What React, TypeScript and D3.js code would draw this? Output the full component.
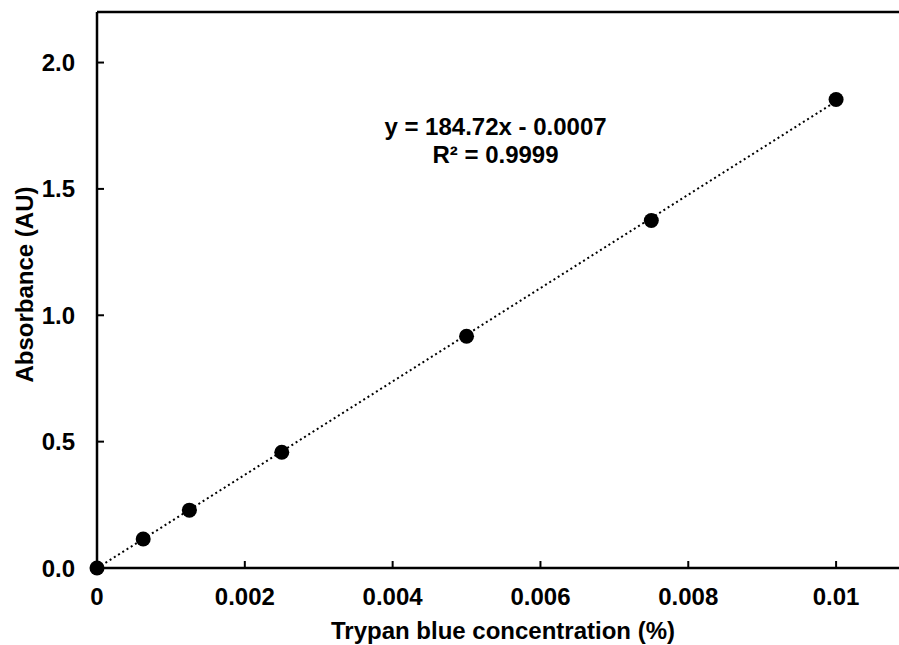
import React from "react";
import * as d3 from "d3";

const concentrations = [0, 0.000625, 0.00125, 0.0025, 0.005, 0.0075, 0.01];
const absorbances = [0, 0.115, 0.229, 0.458, 0.917, 1.375, 1.854];
const xTicks = [0, 0.002, 0.004, 0.006, 0.008, 0.01];
const xTickLabels = ["0", "0.002", "0.004", "0.006", "0.008", "0.01"];
const yTicks = [0, 0.5, 1.0, 1.5, 2.0];
const yTickLabels = ["0.0", "0.5", "1.0", "1.5", "2.0"];
const slope = 184.72;
const intercept = -0.0007;
const equationLines = ["y = 184.72x - 0.0007", "R² = 0.9999"];

export default function App() {
  const W = 899, H = 645;
  const x = d3.scaleLinear().domain([0, 0.011]).range([97, 910]);
  const y = d3.scaleLinear().domain([0, 2.2]).range([568, 12]);
  const font = "'Liberation Sans', Arial, sans-serif";
  const line = d3.line<number>().x((d) => x(d)).y((d) => y(slope * d + intercept));
  return (
    <svg width={W} height={H} style={{ position: "absolute", left: 0, top: 0, background: "#fff" }} fontFamily={font}>
      <path d={line([0, 0.01]) || ""} fill="none" stroke="#000" strokeWidth={2} strokeDasharray="2,3" />
      <line x1={x(0)} x2={W} y1={y(0)} y2={y(0)} stroke="#000" strokeWidth={2.5} />
      <line x1={x(0)} x2={x(0)} y1={y(0)} y2={y(2.2)} stroke="#000" strokeWidth={2.5} />
      <line x1={x(0)} x2={W} y1={y(2.2)} y2={y(2.2)} stroke="#000" strokeWidth={2.5} />
      {xTicks.map((t, i) => (
        <g key={"x" + i}>
          {i > 0 && <line x1={x(t)} x2={x(t)} y1={y(0)} y2={y(0) - 7} stroke="#000" strokeWidth={2} />}
          <text x={x(t)} y={605} textAnchor="middle" fontSize={24} fontWeight="bold">{xTickLabels[i]}</text>
        </g>
      ))}
      {yTicks.map((t, i) => (
        <g key={"y" + i}>
          {i > 0 && <line x1={x(0)} x2={x(0) + 7} y1={y(t)} y2={y(t)} stroke="#000" strokeWidth={2} />}
          <text x={75} y={y(t) + 8.5} textAnchor="end" fontSize={24} fontWeight="bold">{yTickLabels[i]}</text>
        </g>
      ))}
      {concentrations.map((c, i) => (
        <circle key={i} cx={x(c)} cy={y(absorbances[i])} r={7.5} fill="#000" />
      ))}
      <text x={503} y={639} textAnchor="middle" fontSize={24} fontWeight="bold">Trypan blue concentration (%)</text>
      <text transform={`translate(33,284.5) rotate(-90)`} textAnchor="middle" fontSize={24} fontWeight="bold">Absorbance (AU)</text>
      {equationLines.map((l, i) => (
        <text key={i} x={495.5} y={135 + i * 28} textAnchor="middle" fontSize={24} fontWeight="bold">{l}</text>
      ))}
    </svg>
  );
}
